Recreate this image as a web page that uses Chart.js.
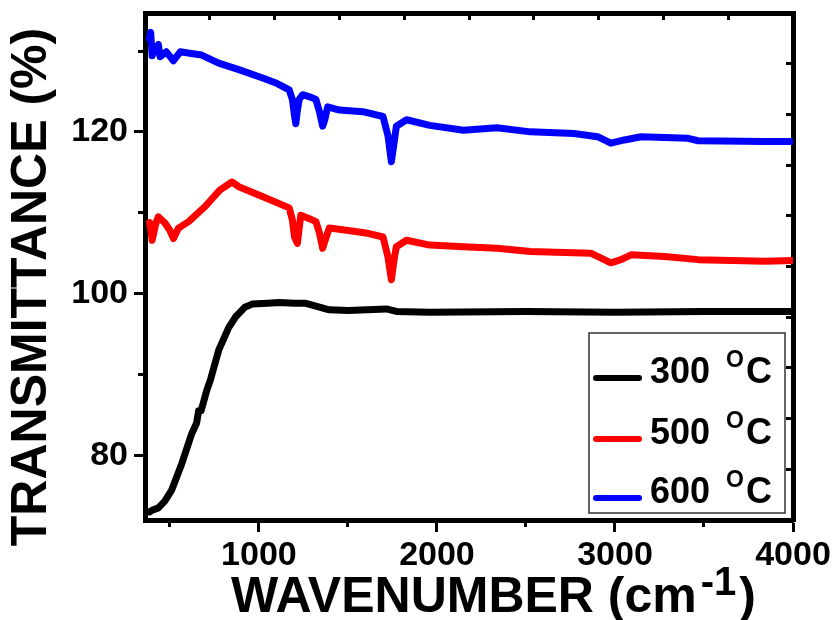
<!DOCTYPE html>
<html lang="en">
<head>
    <meta charset="UTF-8">
    <title>FTIR transmittance</title>
    <script src="https://cdn.jsdelivr.net/npm/chart.js"></script>
    <style>
        body { margin: 0; background: #fff; }
        #wrap { width: 836px; height: 620px; }
    </style>
</head>
<body>
    <div id="wrap"><canvas id="myChart" width="836" height="620"></canvas></div>
    <script>
        // wavenumber (cm-1) / transmittance (%)
        const wn300 = [385, 400, 435, 470, 510, 567, 623, 650, 661, 675, 708, 727, 774, 830, 868, 920, 962, 1050, 1113, 1200, 1264, 1395, 1500, 1716, 1772, 1960, 2500, 3000, 3500, 4000];
        const t300 = [73.0, 73.2, 73.5, 74.3, 75.7, 79.0, 82.7, 84.0, 85.5, 85.5, 88.1, 89.3, 93.0, 95.8, 97.1, 98.3, 98.7, 98.8, 98.9, 98.8, 98.8, 98.0, 97.9, 98.1, 97.8, 97.7, 97.8, 97.7, 97.8, 97.8];

        const wn500 = [385, 392, 400, 420, 435, 473, 500, 520, 548, 605, 699, 780, 848, 870, 887, 1019, 1170, 1188, 1200, 1216, 1235, 1280, 1320, 1340, 1358, 1375, 1395, 1471, 1600, 1697, 1725, 1744, 1760, 1772, 1829, 1960, 2149, 2337, 2525, 2864, 2977, 3034, 3090, 3279, 3467, 3844, 4000];
        const t500 = [108.8, 108.0, 106.6, 108.6, 109.5, 108.7, 107.8, 106.8, 108.1, 108.9, 110.8, 112.8, 113.8, 113.5, 113.2, 112.0, 110.6, 109.1, 107.0, 106.2, 109.7, 109.3, 108.9, 107.5, 105.6, 106.8, 108.1, 107.9, 107.5, 107.0, 104.5, 101.7, 104.3, 105.8, 106.6, 106.0, 105.8, 105.6, 105.2, 105.0, 103.8, 104.2, 104.8, 104.6, 104.2, 104.0, 104.1];

        const wn600 = [385, 392, 400, 415, 435, 445, 480, 520, 558, 620, 678, 774, 887, 1017, 1100, 1170, 1188, 1200, 1207, 1215, 1226, 1245, 1290, 1320, 1340, 1358, 1370, 1386, 1452, 1584, 1697, 1725, 1744, 1760, 1772, 1829, 1960, 2149, 2337, 2525, 2770, 2902, 2977, 3053, 3147, 3411, 3467, 3844, 4000];
        const t600 = [131.5, 132.3, 129.4, 130.2, 130.8, 129.3, 129.9, 128.8, 129.9, 129.7, 129.5, 128.5, 127.7, 126.7, 126.0, 125.2, 124.0, 122.0, 121.0, 122.5, 124.0, 124.6, 124.3, 124.0, 122.5, 120.7, 121.5, 123.1, 122.7, 122.5, 121.9, 119.5, 116.3, 118.8, 120.7, 121.5, 120.8, 120.2, 120.5, 120.0, 119.8, 119.4, 118.6, 119.0, 119.4, 119.2, 118.9, 118.8, 118.8];

        const temps = ['300', '500', '600'];
        const colors = ['#000000', '#ff0000', '#0000ff'];

        // tick positions
        const xMajor = [1000, 2000, 3000, 4000];
        const xMinorTicks = [500, 1500, 2500, 3500];
        const yMajor = [80, 100, 120];
        const yMinorTicks = [90, 110, 130];
        const frameTicks = [0, 1, 2, 3, 4, 5, 6, 7, 8, 9, 10];

        const FONT = '"Liberation Sans", Arial, sans-serif';
        const toPts = (xs, ys) => xs.map((x, i) => ({ x: x, y: ys[i] }));
        const setTicks = vals => s => { s.ticks = vals.map(v => ({ value: v })); };
        const noPad = s => { s.paddingTop = 0; s.paddingBottom = 0; s.paddingLeft = 0; s.paddingRight = 0; };

        // titles + boxed legend (superscripts need manual drawing)
        const decorPlugin = {
            id: 'decor',
            afterDraw(chart) {
                const ctx = chart.ctx;
                ctx.save();
                ctx.fillStyle = '#000';

                // y title
                ctx.translate(32, 287);
                ctx.rotate(-Math.PI / 2);
                ctx.font = 'bold 50px ' + FONT;
                ctx.textAlign = 'center';
                ctx.textBaseline = 'middle';
                ctx.fillText('TRANSMITTANCE (%)', 0, 0);
                ctx.setTransform(1, 0, 0, 1, 0, 0);

                // x title with superscript
                ctx.textAlign = 'left';
                ctx.textBaseline = 'alphabetic';
                const big = 'bold 50px ' + FONT, sup = 'bold 40px ' + FONT;
                const base = 612;
                let x = 231;
                ctx.font = big; ctx.fillText('WAVENUMBER (cm', x, base);
                x += ctx.measureText('WAVENUMBER (cm').width + 4;
                ctx.font = sup; ctx.fillText('-1', x, base - 17);
                x += ctx.measureText('-1').width + 3;
                ctx.font = big; ctx.fillText(')', x, base);

                // legend
                ctx.strokeStyle = '#333';
                ctx.lineWidth = 1.5;
                ctx.strokeRect(589, 333, 196, 180);
                const rowY = [378, 439, 498];
                chart.data.datasets.forEach((ds, i) => {
                    const y = rowY[i];
                    ctx.strokeStyle = ds.borderColor;
                    ctx.lineWidth = 6;
                    ctx.lineCap = 'round';
                    ctx.beginPath();
                    ctx.moveTo(596, y);
                    ctx.lineTo(639, y);
                    ctx.stroke();
                    ctx.fillStyle = '#000';
                    ctx.font = 'bold 36px ' + FONT;
                    ctx.fillText(temps[i], 650, y + 5);
                    let tx = 650 + ctx.measureText(temps[i]).width + 16;
                    ctx.font = 'bold 23px ' + FONT;
                    ctx.fillText('O', tx, y - 11);
                    tx += ctx.measureText('O').width + 2;
                    ctx.font = 'bold 36px ' + FONT;
                    ctx.fillText('C', tx, y + 5);
                });
                ctx.restore();
            }
        };

        const tickFont = { family: FONT, size: 34, weight: 'bold' };

        const ctx = document.getElementById('myChart').getContext('2d');
        const myChart = new Chart(ctx, {
            type: 'line',
            data: {
                datasets: temps.map((t, i) => ({
                    label: t + ' °C',
                    data: toPts([wn300, wn500, wn600][i], [t300, t500, t600][i]),
                    borderColor: colors[i],
                    backgroundColor: colors[i],
                    borderWidth: 7,
                    pointRadius: 0,
                    tension: 0,
                    borderJoinStyle: 'round',
                    borderCapStyle: 'round',
                    fill: false
                }))
            },
            options: {
                responsive: false,
                animation: false,
                layout: { padding: { top: 13, right: 43, left: 0, bottom: 0 } },
                plugins: { legend: { display: false }, tooltip: { enabled: false } },
                scales: {
                    x: {
                        type: 'linear', position: 'bottom', weight: 1,
                        min: 360, max: 4000,
                        ticks: { font: tickFont, color: '#000', padding: 3, maxRotation: 0, autoSkip: false, callback: v => String(v) },
                        afterBuildTicks: setTicks(xMajor),
                        grid: { drawOnChartArea: false, tickLength: 12, tickWidth: 3, tickColor: '#000' },
                        border: { width: 5, color: '#000' },
                        afterFit: s => { s.height = 100; noPad(s); }
                    },
                    xMinor: {
                        type: 'linear', position: 'bottom', weight: 0,
                        min: 360, max: 4000,
                        ticks: { display: false },
                        afterBuildTicks: setTicks(xMinorTicks),
                        grid: { drawOnChartArea: false, tickLength: 7, tickWidth: 3, tickColor: '#000' },
                        border: { display: false },
                        afterFit: s => { s.height = 0; noPad(s); }
                    },
                    y: {
                        type: 'linear', position: 'left', weight: 1,
                        min: 72, max: 134.7,
                        ticks: { font: tickFont, color: '#000', padding: 6, autoSkip: false, callback: v => String(v) },
                        afterBuildTicks: setTicks(yMajor),
                        grid: { drawOnChartArea: false, tickLength: 11, tickWidth: 3, tickColor: '#000' },
                        border: { width: 5, color: '#000' },
                        afterFit: s => { s.width = 145; noPad(s); }
                    },
                    yMinor: {
                        type: 'linear', position: 'left', weight: 0,
                        min: 72, max: 134.7,
                        ticks: { display: false },
                        afterBuildTicks: setTicks(yMinorTicks),
                        grid: { drawOnChartArea: false, tickLength: 7, tickWidth: 3, tickColor: '#000' },
                        border: { display: false },
                        afterFit: s => { s.width = 0; noPad(s); }
                    },
                    xTop: {
                        type: 'linear', position: 'top',
                        min: 0, max: 10,
                        ticks: { display: false },
                        afterBuildTicks: setTicks(frameTicks),
                        grid: { drawOnChartArea: false, tickLength: -7, tickWidth: 3, tickColor: '#000' },
                        border: { width: 5, color: '#000' },
                        afterFit: s => { s.height = 0; noPad(s); }
                    },
                    yRight: {
                        type: 'linear', position: 'right',
                        min: 0, max: 10,
                        ticks: { display: false },
                        afterBuildTicks: setTicks(frameTicks),
                        grid: { drawOnChartArea: false, tickLength: -7, tickWidth: 3, tickColor: '#000' },
                        border: { width: 5, color: '#000' },
                        afterFit: s => { s.width = 0; noPad(s); }
                    }
                }
            },
            plugins: [decorPlugin]
        });
    </script>
</body>
</html>
